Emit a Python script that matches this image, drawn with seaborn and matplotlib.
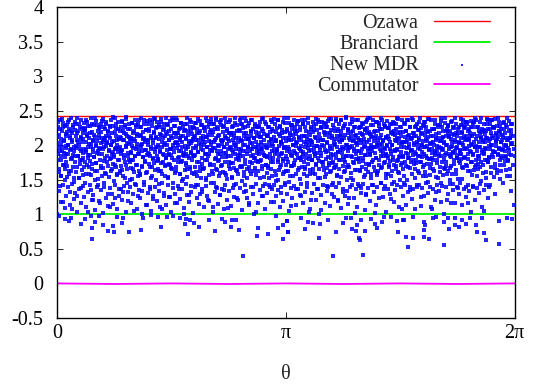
import numpy as np
import pandas as pd
import matplotlib
matplotlib.use("Agg")
import matplotlib.pyplot as plt
import seaborn as sns

# ---------------- data (theta given in units of pi) ----------------
THETA_LINE_PI = [0, 0.125, 0.25, 0.375, 0.5, 0.625, 0.75, 0.875, 1.0,
                 1.125, 1.25, 1.375, 1.5, 1.625, 1.75, 1.875, 2.0]
OZAWA = [2.42, 2.42, 2.42, 2.42, 2.42, 2.42, 2.42, 2.42, 2.42,
         2.42, 2.42, 2.42, 2.42, 2.42, 2.42, 2.42, 2.42]
BRANCIARD = [1.0, 1.0, 1.0, 1.0, 1.0, 1.0, 1.0, 1.0, 1.0,
             1.0, 1.0, 1.0, 1.0, 1.0, 1.0, 1.0, 1.0]
COMMUTATOR = [0.0, -0.004, -0.008, -0.004, 0.0, -0.004, -0.008, -0.004, 0.0,
              -0.004, -0.008, -0.004, 0.0, -0.004, -0.008, -0.004, 0.0]

# sparse New MDR points below the Branciard line (theta/pi, value)
NEW_MDR_LOW_THETA_PI = [
    0.007, 0.034, 0.060, 0.051, 0.104, 0.121, 0.147, 0.165, 0.182, 0.201,
    0.150, 0.245, 0.223, 0.249, 0.261, 0.289, 0.282, 0.314, 0.366, 0.376,
    0.453, 0.410, 0.442, 0.478, 0.153,
    0.507, 0.537, 0.563, 0.580, 0.598, 0.558, 0.621, 0.573, 0.665, 0.690,
    0.719, 0.733, 0.763, 0.781, 0.758, 0.796, 0.879, 0.875, 0.923, 0.966,
    0.988, 0.988, 1.003, 1.010, 0.813, 0.956,
    1.003, 1.066, 1.098, 1.120, 1.083, 1.149, 1.010, 1.144, 1.185, 1.217,
    1.251, 1.261, 1.284, 1.328, 1.287, 1.309, 1.319, 1.305, 1.324, 1.345,
    1.372, 1.389, 1.397, 1.418, 1.427, 1.459, 1.484, 1.488, 1.513, 1.207,
    1.338,
    1.516, 1.557, 1.603, 1.608, 1.603, 1.525, 1.557, 1.603, 1.627, 1.641,
    1.656, 1.691, 1.710, 1.714, 1.739, 1.739, 1.758, 1.768, 1.787, 1.805,
    1.831, 1.834, 1.856, 1.866, 1.875, 1.930, 1.933, 1.691, 1.535, 1.965,
    1.987]
NEW_MDR_LOW_Y = [
    0.98, 0.93, 0.95, 0.90, 0.865, 0.93, 0.98, 0.89, 0.98, 0.845,
    0.797, 0.835, 0.758, 0.739, 0.96, 0.942, 0.87, 0.739, 0.768, 0.942,
    0.816, 0.99, 0.96, 0.966, 0.643,
    0.98, 0.951, 0.932, 0.922, 0.869, 0.855, 0.816, 0.710, 0.922, 0.758,
    0.932, 0.884, 0.922, 0.913, 0.816, 0.768, 0.807, 0.691, 0.720, 0.797,
    0.638, 0.845, 0.903, 0.749, 0.402, 0.98,
    0.908, 0.951, 0.893, 0.879, 0.787, 0.855, 0.749, 0.652, 0.918, 0.749,
    0.869, 0.951, 0.951, 0.918, 0.787, 0.845, 0.662, 0.758, 0.628, 0.763,
    0.932, 0.855, 0.807, 0.884, 0.966, 0.966, 0.903, 0.749, 0.918, 0.397,
    0.411,
    0.918, 0.966, 0.893, 0.845, 0.773, 0.676, 0.652, 0.676, 0.638, 0.942,
    0.966, 0.884, 0.942, 0.787, 0.951, 0.845, 0.821, 0.918, 0.865, 0.942,
    0.845, 0.749, 0.942, 0.725, 0.628, 0.903, 0.566, 0.556, 0.532, 0.942,
    0.932]

# New MDR values (x 0.01) in the main band, sampled evenly over 0..2pi
NEW_MDR_BAND = [
    212, 187, 234, 165, 198, 141, 223, 179, 203, 156, 238, 191, 118, 227, 172, 208, 183, 149, 216, 196,
    176, 229, 154, 201, 188, 237, 163, 214, 132, 195, 221, 107, 181, 207, 168, 226, 192, 147, 233, 185,
    199, 161, 218, 126, 240, 184, 205, 152, 230, 173, 194, 211, 138, 224, 178, 157, 209, 189, 232, 169,
    222, 145, 193, 236, 171, 213, 186, 103, 228, 159, 202, 177, 217, 135, 197, 231, 166, 190, 121, 206,
    183, 215, 150, 239, 174, 200, 229, 162, 191, 143, 210, 187, 225, 116, 196, 170, 219, 155, 235, 204,
    167, 226, 198, 139, 211, 182, 234, 158, 203, 175, 221, 129, 193, 214, 110, 180, 228, 163, 200, 188,
    205, 173, 241, 186, 148, 219, 194, 124, 231, 169, 208, 157, 190, 223, 179, 136, 212, 197, 160, 227,
    192, 235, 164, 207, 133, 218, 181, 226, 153, 199, 172, 238, 146, 213, 185, 119, 202, 230, 176, 209,
    178, 211, 189, 151, 232, 196, 165, 220, 105, 184, 206, 142, 229, 171, 198, 216, 127, 187, 237, 162,
    215, 158, 201, 227, 170, 192, 134, 209, 183, 236, 147, 204, 177, 222, 193, 161, 113, 231, 189, 205,
    188, 224, 168, 140, 213, 197, 233, 155, 180, 207, 122, 219, 174, 195, 238, 150, 210, 185, 226, 166,
    201, 179, 229, 144, 190, 216, 163, 234, 108, 198, 175, 211, 131, 225, 186, 156, 203, 240, 171, 193,
    230, 186, 152, 208, 173, 221, 195, 125, 214, 167, 239, 182, 200, 145, 228, 190, 160, 217, 117, 204,
    169, 203, 236, 181, 218, 137, 192, 225, 159, 210, 176, 232, 148, 197, 186, 213, 101, 184, 222, 164,
    209, 174, 194, 230, 154, 215, 184, 128, 202, 237, 165, 189, 220, 141, 206, 178, 227, 196, 158, 212,
    186, 232, 161, 199, 143, 223, 175, 208, 190, 115, 217, 168, 235, 153, 201, 182, 229, 132, 193, 214,
    225, 167, 205, 187, 239, 149, 212, 179, 197, 226, 120, 188, 157, 219, 173, 204, 233, 163, 191, 111,
    196, 219, 146, 231, 180, 208, 166, 236, 191, 138, 224, 177, 200, 155, 215, 187, 128, 229, 170, 202,
    172, 207, 226, 189, 135, 198, 240, 160, 211, 183, 151, 220, 194, 109, 233, 176, 206, 165, 218, 185,
    217, 154, 193, 228, 174, 203, 142, 214, 187, 232, 164, 199, 123, 221, 181, 158, 210, 195, 237, 169,
    184, 230, 170, 206, 148, 225, 192, 213, 161, 239, 178, 200, 134, 217, 188, 152, 228, 197, 116, 209,
    203, 162, 219, 185, 236, 174, 195, 140, 223, 182, 210, 167, 231, 157, 198, 104, 214, 189, 226, 176,
    228, 191, 153, 212, 179, 201, 238, 166, 194, 126, 220, 186, 207, 144, 233, 172, 197, 215, 160, 183,
    167, 214, 199, 227, 139, 188, 209, 175, 234, 156, 202, 221, 181, 118, 193, 230, 163, 206, 148, 190,
    195, 237, 176, 150, 216, 184, 226, 169, 204, 131, 189, 222, 158, 211, 177, 240, 196, 143, 219, 172,
    211, 180, 224, 162, 198, 232, 147, 207, 190, 215, 170, 112, 229, 185, 201, 155, 236, 174, 192, 221,
    179, 203, 137, 220, 187, 164, 235, 196, 210, 151, 226, 182, 199, 127, 213, 168, 231, 188, 205, 159,
    226, 168, 197, 213, 182, 145, 204, 239, 173, 191, 219, 159, 185, 207, 121, 224, 178, 200, 234, 165,
    190, 222, 158, 187, 230, 171, 211, 136, 199, 181, 237, 165, 216, 193, 152, 208, 184, 106, 227, 176,
    207, 176, 232, 199, 154, 218, 190, 226, 167, 205, 141, 183, 235, 172, 212, 196, 161, 222, 187, 130,
    174, 213, 186, 146, 225, 200, 169, 209, 238, 181, 157, 197, 221, 119, 190, 230, 166, 204, 179, 215,
    236, 189, 207, 170, 194, 133, 228, 178, 215, 163, 201, 240, 185, 149, 222, 192, 171, 210, 124, 198,
    197, 160, 219, 233, 183, 206, 150, 191, 227, 174, 214, 102, 188, 236, 164, 203, 180, 144, 225, 208,
    182, 227, 164, 203, 138, 216, 195, 231, 177, 209, 154, 223, 186, 199, 128, 173, 218, 237, 161, 192,
    219, 171, 194, 240, 186, 152, 213, 175, 198, 229, 143, 206, 168, 220, 189, 114, 234, 182, 201, 157,
    163, 208, 232, 179, 200, 224, 145, 191, 215, 169, 237, 184, 207, 136, 196, 226, 176, 212, 153, 188,
    201, 184, 158, 225, 172, 209, 194, 231, 122, 187, 217, 162, 200, 234, 178, 147, 221, 193, 208, 170,
    230, 195, 177, 211, 161, 238, 183, 203, 150, 219, 190, 227, 174, 108, 205, 185, 166, 232, 197, 142,
    176, 221, 204, 149, 236, 188, 168, 214, 197, 181, 226, 135, 209, 192, 240, 159, 186, 218, 173, 203,
    214, 166, 190, 228, 179, 202, 139, 222, 185, 211, 160, 233, 194, 176, 216, 125, 200, 183, 229, 155,
    188, 234, 171, 198, 215, 156, 227, 182, 206, 147, 219, 193, 238, 167, 202, 180, 111, 213, 189, 224,
    205, 178, 223, 163, 191, 237, 186, 132, 210, 174, 199, 229, 153, 217, 185, 206, 168, 235, 196, 145,
    227, 193, 157, 212, 180, 204, 166, 240, 189, 221, 176, 120, 201, 228, 162, 195, 213, 184, 150, 209,
    170, 216, 199, 235, 144, 189, 225, 173, 208, 192, 231, 159, 214, 182, 197, 138, 223, 177, 204, 187,
    192, 229, 180, 151, 218, 203, 236, 167, 195, 212, 183, 226, 140, 207, 170, 233, 188, 117, 220, 199,
    208, 162, 214, 190, 226, 175, 201, 139, 232, 186, 216, 164, 198, 239, 179, 209, 155, 192, 227, 173,
    185, 220, 197, 234, 168, 212, 148, 189, 224, 204, 171, 230, 187, 105, 216, 196, 161, 210, 178, 238,
    223, 176, 206, 181, 142, 231, 194, 218, 160, 201, 237, 183, 211, 154, 227, 190, 173, 129, 205, 215,
    164, 209, 239, 187, 220, 196, 172, 228, 151, 205, 184, 215, 193, 232, 146, 200, 223, 177, 191, 210,
    199, 183, 226, 156, 207, 178, 235, 193, 210, 166, 222, 134, 186, 203, 230, 171, 214, 195, 113, 185]

# New MDR values (x 0.01) in the densest core, sampled evenly over 0..2pi
NEW_MDR_CORE = [
    203, 178, 226, 161, 215, 192, 237, 184, 209, 155, 221, 197, 232, 172, 206, 189, 228, 166, 213, 199,
    187, 219, 170, 234, 201, 158, 224, 193, 211, 180, 239, 163, 205, 217, 186, 229, 152, 198, 222, 175,
    214, 196, 231, 168, 208, 185, 220, 153, 200, 227, 179, 212, 191, 236, 164, 204, 182, 218, 195, 225,
    176, 223, 204, 190, 159, 216, 233, 181, 197, 210, 169, 228, 186, 202, 240, 157, 219, 173, 207, 194,
    229, 183, 162, 212, 199, 235, 174, 206, 189, 221, 151, 195, 215, 178, 226, 203, 167, 231, 188, 210,
    195, 238, 208, 177, 223, 160, 214, 199, 231, 185, 204, 170, 219, 192, 154, 227, 211, 182, 236, 200,
    218, 165, 190, 228, 206, 183, 239, 172, 213, 196, 225, 158, 201, 233, 179, 209, 194, 163, 221, 187,
    170, 211, 234, 193, 156, 220, 186, 207, 229, 175, 198, 216, 241, 166, 203, 189, 224, 178, 212, 150,
    224, 190, 205, 167, 232, 199, 178, 217, 161, 209, 236, 184, 195, 226, 171, 214, 202, 155, 230, 191,
    188, 227, 157, 214, 197, 240, 169, 202, 219, 183, 211, 230, 176, 193, 160, 222, 207, 186, 235, 201,
    207, 173, 221, 236, 185, 152, 210, 194, 228, 168, 203, 181, 217, 239, 190, 164, 225, 198, 212, 177,
    233, 198, 180, 209, 163, 226, 191, 215, 174, 238, 205, 159, 222, 187, 200, 231, 170, 213, 182, 219,
    181, 216, 200, 154, 229, 188, 207, 235, 171, 194, 223, 186, 210, 166, 237, 196, 218, 179, 203, 228,
    212, 162, 239, 196, 218, 175, 201, 183, 224, 158, 208, 232, 192, 214, 177, 205, 151, 227, 189, 221,
    199, 230, 172, 187, 211, 240, 165, 220, 197, 206, 181, 226, 169, 234, 203, 190, 216, 160, 209, 185,
    225, 184, 213, 169, 196, 207, 232, 156, 217, 190, 238, 176, 202, 221, 162, 211, 195, 229, 173, 204,
    166, 209, 227, 201, 179, 220, 187, 212, 153, 235, 198, 215, 184, 206, 230, 171, 193, 222, 200, 238,
    215, 193, 158, 231, 204, 171, 223, 196, 240, 182, 210, 164, 227, 188, 213, 199, 178, 234, 160, 207,
    192, 237, 206, 183, 219, 161, 198, 228, 176, 214, 189, 233, 157, 202, 224, 185, 209, 170, 217, 196,
    236, 174, 197, 215, 152, 226, 208, 190, 218, 167, 201, 239, 180, 195, 211, 163, 229, 204, 186, 222,
    179, 220, 189, 239, 207, 195, 168, 231, 184, 200, 156, 217, 226, 173, 209, 191, 235, 165, 213, 198,
    209, 168, 232, 192, 175, 214, 221, 159, 203, 237, 186, 198, 211, 162, 228, 182, 205, 219, 177, 194,
    226, 201, 163, 218, 188, 233, 177, 205, 195, 212, 170, 224, 189, 239, 154, 216, 200, 184, 230, 172,
    185, 214, 196, 170, 227, 204, 153, 219, 181, 236, 208, 165, 192, 223, 199, 175, 212, 238, 187, 206,
    219, 157, 208, 225, 193, 178, 236, 199, 164, 213, 228, 188, 205, 171, 217, 202, 233, 180, 196, 161,
    197, 232, 184, 206, 162, 221, 191, 239, 175, 210, 195, 218, 155, 229, 186, 207, 170, 224, 201, 215,
    172, 209, 227, 189, 216, 199, 158, 230, 204, 181, 235, 167, 212, 194, 222, 178, 208, 191, 237, 183,
    231, 190, 175, 214, 237, 166, 202, 187, 220, 155, 209, 196, 232, 180, 200, 215, 164, 226, 206, 193,
    204, 179, 219, 160, 196, 228, 185, 212, 238, 173, 199, 222, 189, 206, 152, 234, 177, 210, 197, 225,
    189, 226, 201, 234, 170, 208, 219, 164, 193, 215, 180, 231, 159, 203, 227, 192, 217, 174, 238, 199,
    217, 163, 238, 182, 211, 194, 229, 176, 205, 167, 220, 202, 187, 235, 171, 213, 156, 224, 190, 207,
    178, 213, 193, 220, 154, 236, 197, 208, 183, 225, 161, 210, 230, 175, 196, 241, 184, 201, 169, 218,
    223, 196, 169, 207, 230, 185, 214, 153, 199, 238, 176, 221, 194, 208, 164, 227, 203, 180, 215, 191,
    200, 237, 210, 175, 192, 218, 162, 226, 207, 189, 232, 168, 215, 181, 205, 198, 222, 157, 234, 186,
    166, 204, 225, 196, 239, 173, 208, 187, 216, 201, 158, 229, 192, 212, 236, 179, 197, 219, 163, 210,
    214, 181, 197, 233, 160, 221, 203, 172, 228, 194, 211, 185, 240, 167, 202, 224, 189, 206, 174, 231,
    195, 228, 158, 210, 186, 199, 235, 181, 213, 168, 225, 204, 177, 219, 191, 155, 230, 200, 216, 183,
    232, 172, 215, 191, 224, 165, 206, 239, 193, 179, 218, 160, 209, 227, 184, 213, 198, 171, 203, 236,
    183, 219, 204, 156, 212, 230, 189, 220, 170, 207, 196, 237, 182, 202, 215, 167, 226, 193, 211, 175,
    210, 193, 236, 178, 200, 217, 152, 226, 188, 214, 174, 205, 231, 196, 163, 222, 208, 185, 239, 201,
    176, 225, 190, 218, 169, 206, 228, 197, 161, 233, 209, 184, 220, 173, 199, 212, 238, 180, 195, 157,
    220, 203, 173, 237, 195, 182, 214, 166, 224, 201, 189, 230, 207, 154, 216, 193, 178, 227, 210, 188,
    198, 161, 229, 206, 184, 240, 176, 211, 195, 221, 167, 203, 186, 232, 214, 170, 200, 223, 159, 217,
    229, 187, 212, 167, 220, 198, 234, 183, 204, 159, 226, 190, 215, 178, 239, 205, 164, 196, 218, 181,
    186, 217, 151, 226, 203, 174, 193, 238, 211, 187, 219, 168, 230, 200, 182, 225, 196, 209, 172, 234,
    213, 195, 231, 180, 162, 209, 223, 191, 217, 235, 176, 202, 157, 214, 227, 188, 205, 233, 169, 198,
    171, 236, 199, 213, 227, 185, 166, 205, 180, 218, 197, 240, 175, 211, 193, 219, 160, 208, 222, 190,
    205, 178, 220, 194, 153, 231, 210, 175, 237, 199, 183, 224, 209, 168, 201, 236, 186, 214, 192, 227,
    225, 190, 167, 238, 206, 199, 218, 160, 228, 186, 212, 195, 233, 179, 217, 163, 204, 224, 181, 208,
    194, 212, 233, 171, 218, 185, 201, 229, 164, 208, 239, 177, 196, 221, 188, 210, 156, 231, 202, 216]

# New MDR values (x 0.01) in the thinner zone just above the Branciard line
NEW_MDR_MID = [
    101, 134, 118, 142, 109, 127, 139, 113, 144, 122, 131, 104, 137, 116, 141, 125, 110, 133, 143, 120,
    128, 106, 140, 119, 135, 102, 145, 124, 112, 138, 130, 115, 143, 107, 126, 136, 121, 141, 103, 132,
    139, 117, 129, 144, 108, 135, 123, 101, 142, 114, 131, 137, 105, 127, 140, 119, 134, 111, 145, 126,
    113, 143, 125, 104, 138, 130, 116, 141, 122, 136, 109, 144, 128, 118, 133, 102, 139, 124, 142, 130,
    136, 110, 141, 127, 119, 145, 103, 132, 140, 115, 128, 137, 108, 143, 121, 134, 112, 138, 125, 144,
    120, 138, 106, 133, 142, 124, 114, 139, 129, 101, 144, 117, 135, 126, 141, 107, 131, 143, 118, 137,
    142, 126, 135, 111, 140, 119, 145, 130, 105, 138, 123, 141, 113, 136, 128, 144, 116, 132, 139, 104,
    108, 131, 144, 121, 137, 100, 128, 142, 117, 134, 140, 112, 143, 125, 139, 120, 145, 109, 136, 127,
    134, 115, 139, 143, 123, 136, 110, 141, 131, 144, 106, 129, 138, 119, 142, 133, 102, 140, 124, 145,
    125, 141, 103, 137, 129, 144, 118, 135, 142, 111, 139, 127, 145, 114, 132, 140, 122, 137, 107, 143,
    143, 112, 138, 126, 145, 131, 140, 107, 136, 121, 143, 134, 118, 141, 101, 139, 129, 144, 116, 135,
    117, 140, 130, 145, 114, 137, 125, 143, 134, 104, 141, 120, 138, 131, 144, 110, 135, 142, 123, 139]

XTICK_LABELS = ["0", "\u03c0", "2\u03c0"]
YTICKS = [-0.5, 0, 0.5, 1, 1.5, 2, 2.5, 3, 3.5, 4]
YTICK_LABELS = ["-0.5", "0", "0.5", "1", "1.5", "2", "2.5", "3", "3.5", "4"]

# ---------------- frames ----------------
lines = pd.DataFrame({
    "theta": np.array(THETA_LINE_PI) * np.pi,
    "Ozawa": OZAWA, "Branciard": BRANCIARD, "Commutator": COMMUTATOR,
})
groups = [NEW_MDR_BAND, NEW_MDR_CORE, NEW_MDR_MID]
band_y = np.concatenate([np.array(g) / 100.0 for g in groups])
band_x = np.concatenate([np.linspace(0, 2 * np.pi, len(g) + 7 * i)[: len(g)]
                         for i, g in enumerate(groups)])
pts = pd.DataFrame({
    "theta": np.concatenate([band_x, np.array(NEW_MDR_LOW_THETA_PI) * np.pi]),
    "value": np.concatenate([band_y, np.array(NEW_MDR_LOW_Y)]),
})

# ---------------- style ----------------
sns.set_theme(style="ticks")
plt.rcParams["font.family"] = ["Liberation Serif", "DejaVu Serif"]
plt.rcParams["axes.edgecolor"] = "black"
plt.rcParams["axes.linewidth"] = 1.0

FS = 14.5
fig = plt.figure(figsize=(5.48, 3.86), dpi=100)
ax = fig.add_axes([0.1046, 0.1762, 0.8346, 0.8057])

sns.lineplot(data=lines, x="theta", y="Ozawa", color="#ff0000", lw=1.0,
             estimator=None, label="Ozawa", ax=ax, zorder=2)
sns.lineplot(data=lines, x="theta", y="Branciard", color="#00ee00", lw=1.3,
             estimator=None, label="Branciard", ax=ax, zorder=2)
sns.scatterplot(data=pts, x="theta", y="value", color="#0000ff", marker="s",
                s=5.5, linewidth=0, alpha=0.85, label="New MDR", ax=ax, zorder=3)
sns.lineplot(data=lines, x="theta", y="Commutator", color="#ff00ff", lw=1.3,
             estimator=None, label="Commutator", ax=ax, zorder=2)

ax.set_xlim(0, 2 * np.pi)
ax.set_ylim(-0.5, 4)
ax.set_xticks([0, np.pi, 2 * np.pi])
ax.set_xticklabels(XTICK_LABELS)
ax.set_yticks(YTICKS)
ax.set_yticklabels(YTICK_LABELS)
ax.tick_params(direction="in", length=4, width=0.6, top=True, right=True,
               labelsize=FS, colors="black")
ax.tick_params(axis="x", pad=4.5)
ax.tick_params(axis="y", pad=10)
ax.set_xlabel("\u03b8", fontsize=FS, labelpad=16)
ax.set_ylabel("")

leg = ax.legend(loc="upper right", bbox_to_anchor=(0.946, 0.977), frameon=False,
                markerfirst=False, handlelength=2.8, handletextpad=0.75,
                labelspacing=0.09, borderaxespad=0, borderpad=0,
                fontsize=FS, markerscale=0.6)

fig.savefig("out.png", dpi=100)
